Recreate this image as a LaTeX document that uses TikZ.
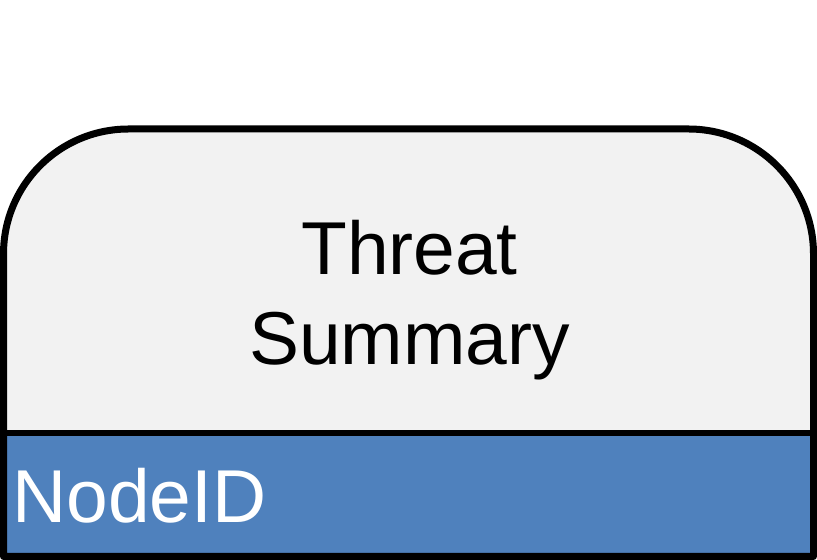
\documentclass[tikz,border=0pt]{standalone}
\usepackage{fontspec}
\setmainfont{Liberation Sans}
\definecolor{bodygray}{HTML}{F2F2F2}
\definecolor{idblue}{HTML}{4F81BD}
\begin{document}
\begin{tikzpicture}[x=0.75pt,y=0.75pt,
  outline/.style={draw=black,line width=5.25pt,line join=round},
  divider/.style={draw=black,line width=4.5pt},
  bigtext/.style={font=\fontsize{56.2}{67.5}\selectfont,inner sep=0pt}]
\useasboundingbox (0,0) rectangle (817,560);
% card body with rounded top corners
\path[fill=bodygray] (3.5,3.5) -- (3.5,306) arc[start angle=180,end angle=90,radius=125]
  -- (688.5,431) arc[start angle=90,end angle=0,radius=125] -- (813.5,3.5) -- cycle;
% id band
\fill[idblue] (3.5,3.5) rectangle (813.5,127);
\draw[divider] (3.5,127) coordinate (divl) -- (813.5,127) coordinate (divr);
\draw[outline] (3.5,3.5) -- (3.5,306) arc[start angle=180,end angle=90,radius=125]
  -- (688.5,431) arc[start angle=90,end angle=0,radius=125] -- (813.5,3.5) -- cycle;
% labels
\node[bigtext,align=center,anchor=base] (title) at (409.5,195) {Threat\\Summary};
\node[bigtext,text=white,anchor=base west] (nodeid) at (12,37) {NodeID};
\end{tikzpicture}
\end{document}
